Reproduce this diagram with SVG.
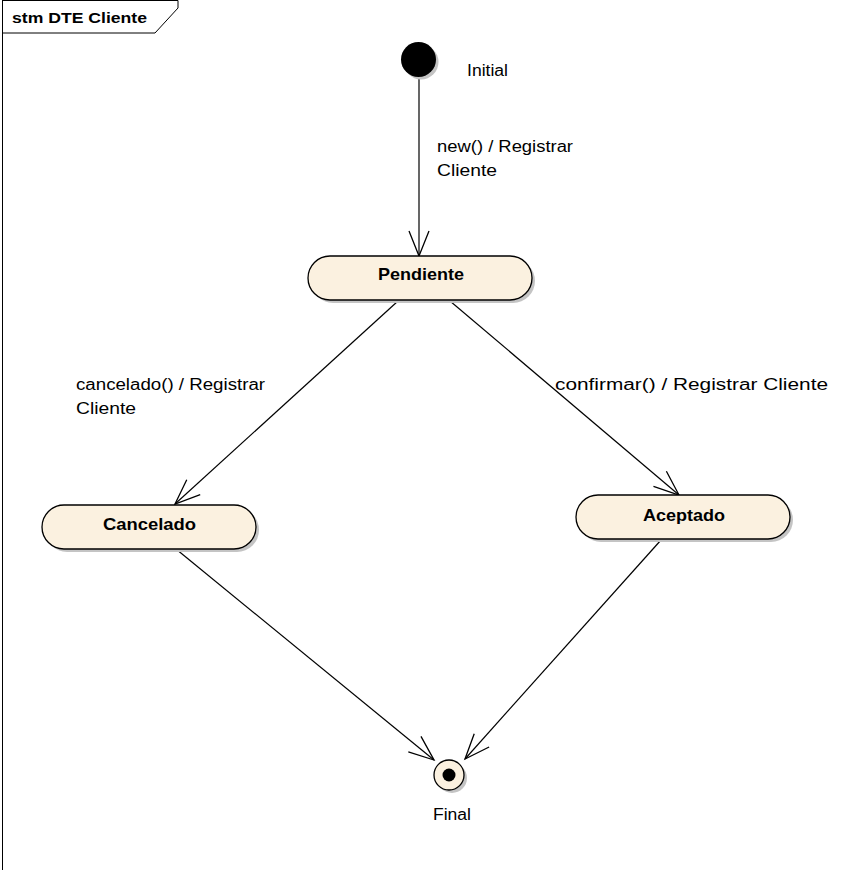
<svg xmlns="http://www.w3.org/2000/svg" width="853" height="870" viewBox="0 0 853 870">
<defs>
<style>
.frame{fill:none;stroke:#000;stroke-width:1}
.state{fill:#fbf1e0;stroke:#000;stroke-width:1.3}
.shadow{fill:#c4c4c4;stroke:none}
.conn{fill:none;stroke:#000;stroke-width:1.2}
.lbl{font-family:"Liberation Sans",Arial,sans-serif;font-size:16px;fill:#000}
.name{font-family:"Liberation Sans",Arial,sans-serif;font-size:17px;font-weight:bold;fill:#000}
</style>
<marker id="open" markerUnits="userSpaceOnUse" markerWidth="40" markerHeight="30" viewBox="-30 -15 40 30" refX="0" refY="0" orient="auto">
<path d="M-25,-10 L0,0 L-25,10" fill="none" stroke="#000" stroke-width="1.3"/>
</marker>
</defs>
<rect width="853" height="870" fill="#fff"/>
<g id="frame">
<path class="frame" d="M2.5,0 V870"/>
<path class="frame" d="M2.5,0.5 H178 V8 L155,33 H2.5"/>
<text class="name" x="12" y="23" textLength="135" lengthAdjust="spacingAndGlyphs" style="font-size:15px">stm DTE Cliente</text>
</g>
<g id="connectors">
<line class="conn" x1="419" y1="77" x2="419" y2="256" marker-end="url(#open)"/>
<line class="conn" x1="398" y1="301" x2="175" y2="504" marker-end="url(#open)"/>
<line class="conn" x1="450" y1="301" x2="679" y2="495" marker-end="url(#open)"/>
<line class="conn" x1="176" y1="549" x2="434" y2="760" marker-end="url(#open)"/>
<line class="conn" x1="661" y1="540" x2="465" y2="759" marker-end="url(#open)"/>
<text class="lbl" x="437" y="152" textLength="136" lengthAdjust="spacingAndGlyphs">new() / Registrar</text>
<text class="lbl" x="437" y="176" textLength="60" lengthAdjust="spacingAndGlyphs">Cliente</text>
<text class="lbl" x="76" y="390" textLength="189" lengthAdjust="spacingAndGlyphs">cancelado() / Registrar</text>
<text class="lbl" x="76" y="414" textLength="60" lengthAdjust="spacingAndGlyphs">Cliente</text>
<text class="lbl" x="555" y="390" textLength="273" lengthAdjust="spacingAndGlyphs">confirmar() / Registrar Cliente</text>
</g>
<g id="initial">
<circle class="shadow" cx="421" cy="62" r="17.5"/>
<circle cx="418.5" cy="59.5" r="17.5" fill="#000"/>
<text class="lbl" x="467" y="76" textLength="41" lengthAdjust="spacingAndGlyphs">Initial</text>
</g>
<g id="pendiente">
<rect class="shadow" x="311" y="259" width="224" height="44" rx="22"/>
<rect class="state" x="308" y="256" width="224" height="44" rx="22"/>
<text class="name" x="378" y="280" textLength="86" lengthAdjust="spacingAndGlyphs">Pendiente</text>
</g>
<g id="cancelado">
<rect class="shadow" x="45" y="508" width="214" height="44" rx="22"/>
<rect class="state" x="42" y="505" width="214" height="44" rx="22"/>
<text class="name" x="103" y="530" textLength="93" lengthAdjust="spacingAndGlyphs">Cancelado</text>
</g>
<g id="aceptado">
<rect class="shadow" x="579" y="498" width="214" height="44" rx="22"/>
<rect class="state" x="576" y="495" width="214" height="44" rx="22"/>
<text class="name" x="643" y="521" textLength="82" lengthAdjust="spacingAndGlyphs">Aceptado</text>
</g>
<g id="final">
<circle class="shadow" cx="452" cy="778" r="15"/>
<circle class="state" cx="449" cy="775" r="15"/>
<circle cx="449" cy="775" r="6.5" fill="#000"/>
<text class="lbl" x="433" y="820" textLength="38" lengthAdjust="spacingAndGlyphs">Final</text>
</g>
</svg>
